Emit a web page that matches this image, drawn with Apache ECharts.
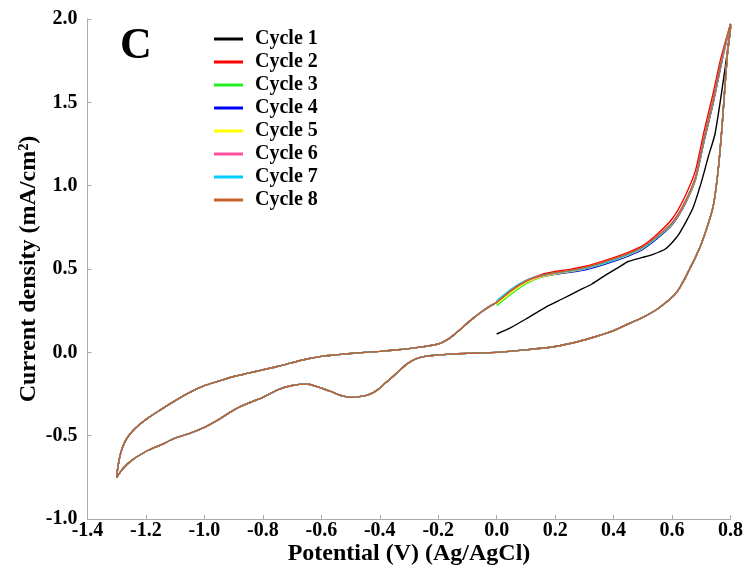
<!DOCTYPE html>
<html>
<head>
<meta charset="utf-8">
<script src="https://cdn.jsdelivr.net/npm/echarts@6/dist/echarts.min.js"></script>
<style>
  html, body { margin: 0; padding: 0; background: #fff; }
  #chart-container { width: 746px; height: 574px; }
</style>
</head>
<body>
<div id="chart-container"></div>
<script>
// cycle names + colours
const cycleNames = ['Cycle 1', 'Cycle 2', 'Cycle 3', 'Cycle 4', 'Cycle 5', 'Cycle 6', 'Cycle 7', 'Cycle 8'];
const cycleColors = ['#000000', '#ff0000', '#22ee22', '#0000ff', '#ffff00', '#ff4fa0', '#00ccff', '#c8602a'];

// cycle 1 starts at open circuit (0 V) and runs up to 0.8 V
const initV = [0.0, 0.05, 0.1, 0.167, 0.224, 0.28, 0.326, 0.37, 0.417, 0.45, 0.5, 0.53, 0.577, 0.62, 0.67, 0.7, 0.725, 0.747, 0.782, 0.8];
const initI = [0.11, 0.15, 0.2, 0.27, 0.32, 0.37, 0.41, 0.46, 0.51, 0.545, 0.57, 0.585, 0.62, 0.7, 0.86, 1.02, 1.18, 1.31, 1.71, 1.96];

// reverse scan 0.8 -> -1.3 V (all cycles overlap)
const revV = [0.8, 0.79, 0.78, 0.77, 0.76, 0.75, 0.74, 0.72, 0.7, 0.68, 0.66, 0.64, 0.62, 0.6, 0.55, 0.5, 0.45, 0.4, 0.34, 0.28, 0.2, 0.1, 0.0, -0.1, -0.17, -0.22, -0.25, -0.27, -0.29, -0.31, -0.33, -0.35, -0.38, -0.41, -0.44, -0.47, -0.5, -0.53, -0.56, -0.6, -0.65, -0.7, -0.75, -0.8, -0.85, -0.9, -0.95, -1.0, -1.05, -1.1, -1.15, -1.2, -1.25, -1.28, -1.3];
const revI = [1.95, 1.8, 1.57, 1.33, 1.13, 0.98, 0.87, 0.75, 0.65, 0.57, 0.5, 0.43, 0.37, 0.33, 0.26, 0.21, 0.17, 0.13, 0.095, 0.065, 0.035, 0.015, 0.0, -0.006, -0.012, -0.019, -0.026, -0.035, -0.051, -0.074, -0.104, -0.137, -0.183, -0.228, -0.255, -0.266, -0.27, -0.26, -0.24, -0.214, -0.19, -0.199, -0.225, -0.27, -0.305, -0.347, -0.402, -0.45, -0.486, -0.515, -0.556, -0.595, -0.65, -0.7, -0.75];

// forward scan -1.3 -> 0 V (all cycles overlap)
const lowV = [-1.3, -1.297, -1.29, -1.28, -1.265, -1.245, -1.22, -1.19, -1.15, -1.1, -1.05, -1.0, -0.95, -0.9, -0.85, -0.8, -0.75, -0.7, -0.65, -0.6, -0.55, -0.5, -0.45, -0.4, -0.35, -0.3, -0.25, -0.2, -0.17, -0.14, -0.11, -0.08, -0.05, -0.02, 0.0];
const lowI = [-0.75, -0.7, -0.63, -0.57, -0.515, -0.47, -0.43, -0.39, -0.345, -0.29, -0.24, -0.2, -0.172, -0.145, -0.125, -0.105, -0.085, -0.062, -0.04, -0.024, -0.015, -0.007, 0.0, 0.006, 0.014, 0.022, 0.034, 0.05, 0.075, 0.114, 0.16, 0.205, 0.245, 0.28, 0.3];

// forward scan 0 -> 0.8 V, cycles 2..8 spread a little here
const highV = [0.0, 0.05, 0.1, 0.15, 0.2, 0.25, 0.3, 0.35, 0.4, 0.45, 0.5, 0.55, 0.6, 0.64, 0.68, 0.71, 0.74, 0.765, 0.785, 0.8];
const highI2 = [0.30, 0.37, 0.43, 0.465, 0.485, 0.498, 0.515, 0.54, 0.568, 0.6, 0.64, 0.71, 0.8, 0.92, 1.09, 1.33, 1.55, 1.75, 1.88, 1.97];
const highI3 = [0.28, 0.35, 0.41, 0.45, 0.468, 0.482, 0.497, 0.52, 0.548, 0.58, 0.62, 0.685, 0.765, 0.875, 1.035, 1.27, 1.49, 1.7, 1.86, 1.97];
const highI4 = [0.30, 0.37, 0.42, 0.452, 0.468, 0.48, 0.494, 0.518, 0.546, 0.578, 0.618, 0.684, 0.765, 0.875, 1.035, 1.27, 1.49, 1.7, 1.86, 1.97];
const highI5 = [0.29, 0.36, 0.418, 0.452, 0.47, 0.484, 0.5, 0.524, 0.552, 0.584, 0.624, 0.69, 0.77, 0.88, 1.04, 1.28, 1.5, 1.71, 1.86, 1.97];
const highI6 = [0.30, 0.37, 0.425, 0.456, 0.474, 0.488, 0.503, 0.528, 0.556, 0.588, 0.628, 0.692, 0.772, 0.882, 1.045, 1.285, 1.505, 1.71, 1.86, 1.97];
const highI7 = [0.31, 0.38, 0.432, 0.46, 0.476, 0.488, 0.502, 0.526, 0.554, 0.586, 0.626, 0.692, 0.775, 0.89, 1.05, 1.29, 1.51, 1.72, 1.87, 1.97];
const highI8 = [0.30, 0.372, 0.428, 0.46, 0.478, 0.492, 0.508, 0.533, 0.561, 0.593, 0.633, 0.698, 0.778, 0.888, 1.05, 1.29, 1.51, 1.72, 1.87, 1.97];

const xTicks = [-1.4, 0.8, 0.2];   // min, max, step
const yTicks = [-1.0, 2.0, 0.5];

function pairs(xs, ys) {
  return xs.map((x, i) => [x, ys[i]]);
}

// one closed loop per cycle: up-scan, reverse scan, back to 0 V
const upScans = [
  pairs(initV, initI),
  pairs(highV, highI2),
  pairs(highV, highI3),
  pairs(highV, highI4),
  pairs(highV, highI5),
  pairs(highV, highI6),
  pairs(highV, highI7),
  pairs(highV, highI8)
];

const seriesList = cycleNames.map((name, k) => ({
  name: name,
  type: 'line',
  showSymbol: false,
  smooth: 0.2,
  animation: false,
  color: cycleColors[k],
  lineStyle: { width: 1.4, color: cycleColors[k] },
  data: upScans[k].concat(pairs(revV, revI), pairs(lowV, lowI))
}));

const serif = 'Liberation Serif';
var dom = document.getElementById('chart-container');
var myChart = echarts.init(dom, null, { renderer: 'canvas' });

var option = {
  animation: false,
  title: {
    text: 'C',
    left: 115,
    top: 20,
    textStyle: { fontFamily: serif, fontWeight: 'bold', fontSize: 44, color: '#000' }
  },
  legend: {
    orient: 'vertical',
    left: 209,
    top: 24,
    icon: 'rect',
    itemWidth: 29,
    itemHeight: 3,
    itemGap: 3,
    data: cycleNames,
    textStyle: { fontFamily: serif, fontWeight: 'bold', fontSize: 20, lineHeight: 20, color: '#000', padding: [0, 0, 0, 7] }
  },
  grid: { left: 87.5, right: 14, top: 19, bottom: 55 },
  xAxis: {
    type: 'value',
    min: xTicks[0],
    max: xTicks[1],
    interval: xTicks[2],
    name: 'Potential (V) (Ag/AgCl)',
    nameLocation: 'middle',
    nameGap: 23,
    nameMoveOverlap: false,
    nameTextStyle: { fontFamily: serif, fontWeight: 'bold', fontSize: 24, color: '#000' },
    axisLine: { onZero: false, lineStyle: { color: '#aaa', width: 1 } },
    axisTick: { show: true, inside: true, length: 4, lineStyle: { color: '#aaa' } },
    splitLine: { show: false },
    axisLabel: {
      fontFamily: serif, fontWeight: 'bold', fontSize: 20, color: '#000', margin: 2,
      formatter: v => v.toFixed(1)
    }
  },
  yAxis: {
    type: 'value',
    min: yTicks[0],
    max: yTicks[1],
    interval: yTicks[2],
    name: 'Current density (mA/cm²)',
    nameLocation: 'middle',
    nameGap: 47,
    nameMoveOverlap: false,
    nameTextStyle: { fontFamily: serif, fontWeight: 'bold', fontSize: 24, color: '#000' },
    axisLine: { show: true, onZero: false, lineStyle: { color: '#aaa', width: 1 } },
    axisTick: { show: true, inside: true, length: 4, lineStyle: { color: '#aaa' } },
    splitLine: { show: false },
    axisLabel: {
      fontFamily: serif, fontWeight: 'bold', fontSize: 20, color: '#000', margin: 10,
      formatter: v => v.toFixed(1)
    }
  },
  series: seriesList
};

if (option && typeof option === 'object') {
  myChart.setOption(option);
}

window.addEventListener('resize', myChart.resize);
</script>
</body>
</html>
